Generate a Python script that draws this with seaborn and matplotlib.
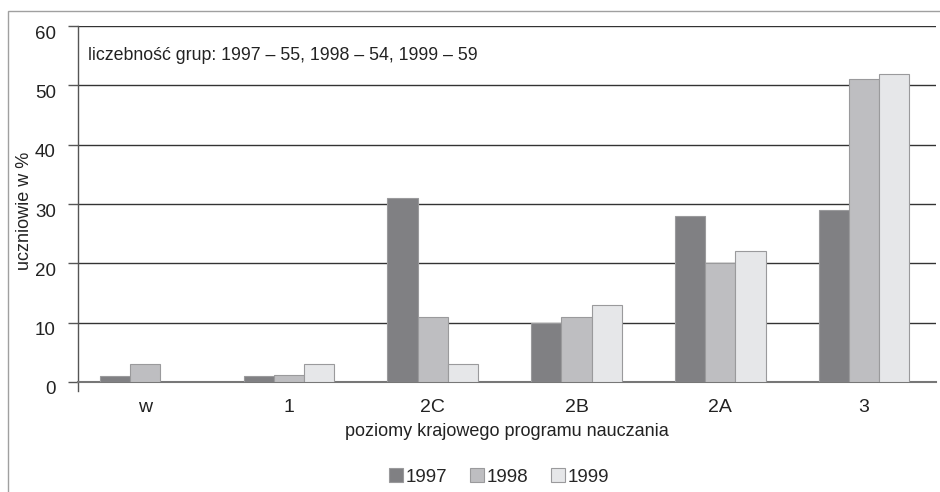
import pandas as pd
import matplotlib.pyplot as plt
import matplotlib.transforms as mtransforms
import seaborn as sns
from matplotlib.patches import Rectangle

# ==========================
# DATA
# ==========================

levels = ["w", "1", "2C", "2B", "2A", "3"]
years = ["1997", "1998", "1999"]
pct_1997 = [1, 1, 31, 10, 28, 29]
pct_1998 = [3, 1.2, 11, 11, 20, 51]
pct_1999 = [0, 3, 3, 13, 22, 52]
note = "liczebność grup: 1997 – 55, 1998 – 54, 1999 – 59"

df = pd.DataFrame({
    "poziom": levels * 3,
    "rok": [y for y in years for _ in levels],
    "pct": pct_1997 + pct_1998 + pct_1999,
})

colors = ["#808083", "#bdbec1", "#e6e7e9"]

# ==========================
# PLOT
# ==========================

sns.set_theme(style="white")
plt.rcParams["font.family"] = ["Liberation Sans Narrow", "Liberation Sans", "DejaVu Sans"]

fig = plt.figure(figsize=(9.4, 4.92), dpi=100)
ax = fig.add_axes([0.083, 0.2236, 0.9127, 0.7234])

# outer frame of the figure (only top and left edges visible)
fig.patches.append(Rectangle((8 / 940, -0.2), 1.2, 1 - 10.5 / 492 + 0.2,
                             transform=fig.transFigure, fill=False,
                             edgecolor="#a0a0a0", linewidth=1.0))

sns.barplot(data=df, x="poziom", y="pct", hue="rok", order=levels,
            hue_order=years, palette=colors, width=0.63, gap=0,
            edgecolor="#9a9a9c", linewidth=0.8, ax=ax, zorder=3)

ax.set_ylim(0, 60)
ax.set_xlim(-0.466, 5.5)
ax.set_yticks(range(0, 61, 10))
for v in range(10, 61, 10):
    ax.axhline(v, color="#333333", linewidth=1.0, zorder=1)

for s in ["top", "right"]:
    ax.spines[s].set_visible(False)
ax.spines["left"].set_color("#555555")
ax.spines["bottom"].set_color("#777777")
ax.spines["left"].set_linewidth(1.0)
ax.spines["bottom"].set_linewidth(1.5)
ax.spines["left"].set_bounds(-1.5, 60)

ax.tick_params(axis="y", left=True, length=7, width=1.0, color="#555555",
               labelsize=13.5, labelcolor="#222222", pad=9)
ax.tick_params(axis="x", bottom=False, labelsize=14, labelcolor="#222222", pad=6)

# labels sit a little below their tick in the original
shift = mtransforms.ScaledTranslation(0, -6 / 100, fig.dpi_scale_trans)
for lab in ax.get_yticklabels():
    lab.set_transform(lab.get_transform() + shift)

ax.set_xlabel("poziomy krajowego programu nauczania", fontsize=13,
              color="#222222", labelpad=5)
ax.set_ylabel("uczniowie w %", fontsize=13, color="#222222")
ax.yaxis.set_label_coords(-0.052, 0.48)

ax.text(0.012, 0.94, note, transform=ax.transAxes, fontsize=12.8,
        color="#222222", va="top", ha="left")

ax.legend(loc="center", bbox_to_anchor=(499 / 940, 1 - 477 / 492),
          bbox_transform=fig.transFigure, ncol=3, frameon=False,
          fontsize=13.5, handlelength=0.75, handleheight=0.75,
          handletextpad=0.16, columnspacing=1.2)

fig.savefig("out.png", dpi=100)
